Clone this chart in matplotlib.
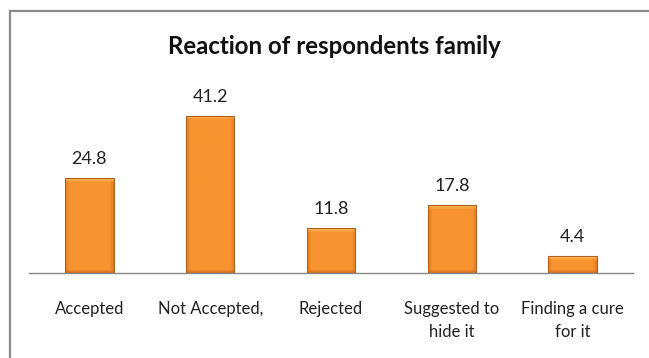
import numpy as np
import matplotlib
matplotlib.use("Agg")
import matplotlib.pyplot as plt
from matplotlib.patches import Rectangle

plt.rcParams['font.family'] = ['Lato', 'DejaVu Sans']

categories = ["Accepted", "Not Accepted,", "Rejected", "Suggested to\nhide it", "Finding a cure\nfor it"]
values = [24.8, 41.2, 11.8, 17.8, 4.4]
title = "Reaction of respondents family"

W, H = 649, 358
fig = plt.figure(figsize=(W / 100, H / 100), dpi=100)

# grey frame around the chart area (only top and left edges are inside the canvas)
fig.patches.append(Rectangle((9.5 / W, -0.1), 1.2, (H - 10.5) / H + 0.1,
                             transform=fig.transFigure, fill=False,
                             edgecolor="#8c8c8c", linewidth=1.6))

ax = fig.add_axes([29 / W, (H - 273) / H, (633 - 29) / W, 171.5 / H])
x = np.arange(len(categories))
bars = ax.bar(x, values, width=0.4, color="none", edgecolor="#b0621f",
              linewidth=0.8, zorder=3)


def bevel_image(hp, wp, bw=4):
    face = np.array([247, 148, 48]) / 255
    top = np.array([255, 188, 92]) / 255
    side = np.array([228, 122, 38]) / 255
    bottom = np.array([212, 110, 34]) / 255
    img = np.tile(face, (hp, wp, 1))
    rows, cols = np.mgrid[0:hp, 0:wp]
    dside = np.minimum(cols, wp - 1 - cols)
    dt = rows
    db = hp - 1 - rows
    # each edge band blends towards its own colour
    ts = np.clip(1 - dside / bw, 0, 1)[..., None]
    img = img * (1 - ts) + side * ts
    tb = np.clip(1 - db / 3, 0, 1)[..., None]
    img = img * (1 - tb) + bottom * tb
    tt = np.clip(1 - dt / bw, 0, 1)[..., None]
    img = img * (1 - tt) + top * tt
    return img


px_per_unit = 171.5 / 45
for b in bars:
    hp = max(int(round(b.get_height() * px_per_unit)), 2)
    img = bevel_image(hp, 48)
    im = ax.imshow(img, extent=[b.get_x(), b.get_x() + b.get_width(), 0, b.get_height()],
                   aspect="auto", zorder=2, interpolation="bilinear")
    im.set_clip_path(b)
    ax.annotate(f"{b.get_height():.1f}", (b.get_x() + b.get_width() / 2, b.get_height()),
                xytext=(0, 8), textcoords="offset points", ha="center", va="bottom",
                fontsize=13, color="#222222")

ax.set_xlim(-0.5, len(categories) - 0.5)
ax.set_ylim(0, 45)
for s in ["top", "right", "left"]:
    ax.spines[s].set_visible(False)
ax.spines["bottom"].set_color("#888888")
ax.spines["bottom"].set_linewidth(1.0)
ax.set_yticks([])
ax.set_xticks(x)
ax.set_xticklabels(categories, fontsize=12, color="#222222", linespacing=1.55)
ax.tick_params(axis="x", length=0, pad=20)

fig.text(334 / W, 1 - 46 / H, title, ha="center", va="center",
         fontsize=17.3, fontweight="bold", color="#111111")

fig.savefig("out.png", dpi=100)
